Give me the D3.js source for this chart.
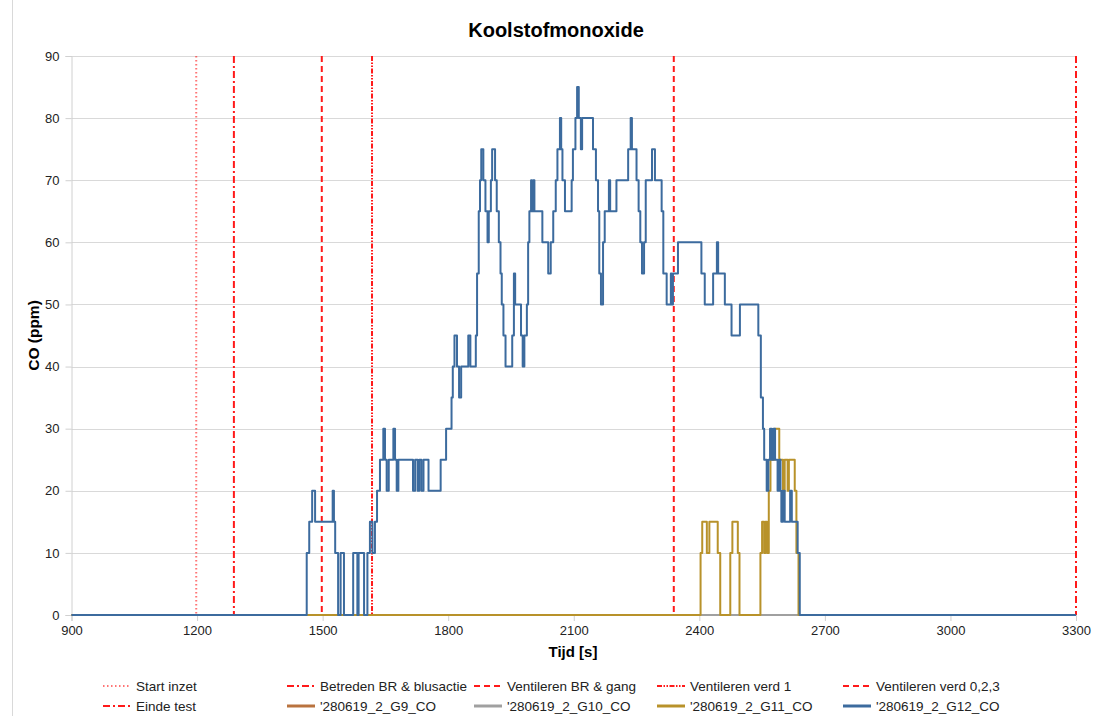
<!DOCTYPE html>
<html>
<head>
<meta charset="utf-8">
<script src="https://cdn.jsdelivr.net/npm/d3@7"></script>
<style>
  html, body { margin: 0; padding: 0; background: #fff; }
  svg { display: block; font-family: "Liberation Sans", Arial, sans-serif; }
</style>
</head>
<body>
<svg id="chart" width="1101" height="716"></svg>
<script>
// ---------- DATA ----------
const xTickValues = [900, 1200, 1500, 1800, 2100, 2400, 2700, 3000, 3300];
const yTickValues = [0, 10, 20, 30, 40, 50, 60, 70, 80, 90];

// event lines (time in s)
const eventNames = ["Start inzet", "Betreden BR & blusactie", "Ventileren BR & gang", "Ventileren verd 1", "Ventileren verd 0,2,3", "Einde test"];
const eventTimes = [1198, 1288, 1498, 1618, 2339, 3300];

// sensor series (step breakpoints: time, value)
const g9Times = [900, 3300];
const g9Values = [0, 0];
const g10Times = [900, 3300];
const g10Values = [0, 0];
const g11Times = [900, 2403, 2407, 2418, 2424, 2444, 2450, 2474, 2479, 2492, 2496, 2546, 2550, 2555, 2558, 2562, 2566, 2570, 2580, 2591, 2600, 2604, 2611, 2614, 2628, 2632, 2637, 3300];
const g11Values = [0, 10, 15, 10, 15, 10, 0, 10, 15, 10, 0, 10, 15, 10, 15, 10, 20, 25, 30, 25, 20, 25, 20, 25, 20, 10, 0, 0];
const g12Times = [900, 1462, 1468, 1475, 1482, 1524, 1527, 1530, 1537, 1543, 1551, 1573, 1583, 1586, 1599, 1607, 1613, 1619, 1625, 1630,
  1637, 1645, 1649, 1653, 1658, 1669, 1673, 1677, 1681, 1716, 1721, 1727, 1731, 1736, 1741, 1753, 1782, 1795, 1808, 1811,
  1815, 1821, 1826, 1831, 1848, 1853, 1866, 1869, 1873, 1876, 1879, 1884, 1889, 1894, 1897, 1902, 1905, 1912, 1916, 1921,
  1925, 1928, 1932, 1937, 1953, 1957, 1960, 1974, 1978, 1982, 1988, 1991, 1994, 1998, 2000, 2003, 2006, 2025, 2039, 2045,
  2051, 2057, 2061, 2067, 2070, 2073, 2079, 2095, 2098, 2104, 2108, 2112, 2117, 2120, 2146, 2153, 2158, 2161, 2165, 2170,
  2174, 2184, 2187, 2202, 2230, 2236, 2239, 2250, 2255, 2259, 2263, 2268, 2272, 2287, 2294, 2310, 2314, 2322, 2332, 2334,
  2337, 2349, 2405, 2413, 2433, 2442, 2445, 2461, 2477, 2497, 2541, 2547, 2552, 2555, 2561, 2565, 2569, 2573, 2577, 2581,
  2587, 2591, 2594, 2596, 2600, 2604, 2617, 2621, 2635, 2640, 3300];
const g12Values = [0, 10, 15, 20, 15, 20, 15, 10, 0, 10, 0, 10, 0, 10, 0, 10, 15, 10, 15, 20,
  25, 30, 25, 20, 25, 30, 25, 20, 25, 20, 25, 20, 25, 20, 25, 20, 25, 30, 35, 40,
  45, 40, 35, 40, 45, 40, 45, 55, 65, 70, 75, 70, 65, 60, 65, 70, 75, 70, 65, 60,
  55, 50, 45, 40, 45, 55, 50, 45, 40, 45, 50, 60, 65, 70, 65, 70, 65, 60, 55, 60,
  65, 70, 75, 80, 75, 70, 65, 70, 75, 80, 85, 80, 75, 80, 75, 70, 65, 55, 50, 60,
  65, 70, 65, 70, 75, 80, 75, 70, 65, 60, 55, 60, 70, 75, 70, 65, 55, 50, 55, 50,
  55, 60, 55, 50, 55, 60, 55, 50, 45, 50, 45, 35, 30, 25, 20, 25, 30, 25, 30, 25,
  20, 25, 20, 15, 20, 15, 20, 15, 10, 0, 0];

const seriesNames = ["'280619_2_G9_CO", "'280619_2_G10_CO", "'280619_2_G11_CO", "'280619_2_G12_CO"];
const seriesTimes = [g9Times, g10Times, g11Times, g12Times];
const seriesValues = [g9Values, g10Values, g11Values, g12Values];

// ---------- STYLE ----------
const seriesColors = ["#b9733f", "#a0a0a0", "#b8922a", "#3c6b9e"];
const eventDash = ["1.5,2.5", "7,3,2,3", "6,4", "5,1.5,1.5,1.5,1.5,1.5", "6,4", "7,3,2,3"];
const eventColor = "#ff1a1a";

const svg = d3.select("#chart");
const pLeft = 71.5, pRight = 1076, pTop = 56, pBottom = 615;

const x = d3.scaleLinear().domain([900, 3300]).range([pLeft, pRight]);
const y = d3.scaleLinear().domain([0, 90]).range([pBottom, pTop]);

// chart frame edge (left)
svg.append("line").attr("x1", 12.5).attr("x2", 12.5).attr("y1", 0).attr("y2", 716)
  .attr("stroke", "#d9d9d9").attr("stroke-width", 1);

// title
svg.append("text").attr("x", 556).attr("y", 37).attr("text-anchor", "middle")
  .attr("font-size", 20).attr("font-weight", "bold").attr("fill", "#000").text("Koolstofmonoxide");

// gridlines
svg.append("g").selectAll("line").data(yTickValues.filter(d => d > 0)).join("line")
  .attr("x1", pLeft).attr("x2", pRight)
  .attr("y1", d => Math.round(y(d)) + 0.5).attr("y2", d => Math.round(y(d)) + 0.5)
  .attr("stroke", "#d9d9d9").attr("stroke-width", 1);

// y axis
const yAxis = svg.append("g").attr("transform", `translate(${pLeft},0)`)
  .call(d3.axisLeft(y).tickValues(yTickValues).tickSize(6).tickPadding(6));
yAxis.select(".domain").attr("stroke", "#d0d0d0");
yAxis.selectAll(".tick line").attr("stroke", "#d0d0d0");
yAxis.selectAll(".tick text").attr("font-size", 13).attr("fill", "#222").attr("font-family", "'Liberation Sans', Arial, sans-serif");

// x axis
const xAxis = svg.append("g").attr("transform", `translate(0,${pBottom})`)
  .call(d3.axisBottom(x).tickValues(xTickValues).tickFormat(d3.format("d")).tickSize(6).tickPadding(5));
xAxis.select(".domain").attr("stroke", "#d0d0d0");
xAxis.selectAll(".tick line").attr("stroke", "#d0d0d0");
xAxis.selectAll(".tick text").attr("font-size", 13).attr("fill", "#222").attr("font-family", "'Liberation Sans', Arial, sans-serif");

// axis titles
svg.append("text").attr("x", 573).attr("y", 657).attr("text-anchor", "middle")
  .attr("font-size", 15).attr("font-weight", "bold").text("Tijd [s]");
svg.append("text").attr("transform", `translate(39,${(pTop + pBottom) / 2}) rotate(-90)`)
  .attr("text-anchor", "middle").attr("font-size", 15.5).attr("font-weight", "bold").text("CO (ppm)");

// event lines
svg.append("g").selectAll("line").data(eventTimes).join("line")
  .attr("x1", d => x(d)).attr("x2", d => x(d)).attr("y1", pTop).attr("y2", pBottom)
  .attr("stroke", eventColor).attr("stroke-width", 2)
  .attr("stroke-dasharray", (d, i) => eventDash[i])
  .attr("opacity", (d, i) => i === 0 ? 0.6 : 1);

// series
const line = d3.line().x(d => x(d[0])).y(d => y(d[1])).curve(d3.curveStepAfter);
const seriesData = seriesTimes.map((ts, i) => ts.map((t, j) => [t, seriesValues[i][j]]));
svg.append("g").selectAll("path").data(seriesData).join("path")
  .attr("d", line).attr("fill", "none")
  .attr("stroke", (d, i) => seriesColors[i]).attr("stroke-width", 2)
  .attr("stroke-linejoin", "round");

// legend
const colX = [103, 287, 474, 657, 843];
const legendItems = [];
eventNames.forEach((n, i) => legendItems.push({ name: n, type: "event", i }));
seriesNames.forEach((n, i) => legendItems.push({ name: n, type: "series", i }));
const lg = svg.append("g");
legendItems.forEach((it, k) => {
  const col = k % 5, row = Math.floor(k / 5);
  const lx = colX[col], ly = 686 + row * 20;
  if (it.type === "event") {
    lg.append("line").attr("x1", lx).attr("x2", lx + 28).attr("y1", ly).attr("y2", ly)
      .attr("stroke", eventColor).attr("stroke-width", 2)
      .attr("stroke-dasharray", eventDash[it.i]).attr("opacity", it.i === 0 ? 0.6 : 1);
  } else {
    lg.append("line").attr("x1", lx).attr("x2", lx + 28).attr("y1", ly).attr("y2", ly)
      .attr("stroke", seriesColors[it.i]).attr("stroke-width", 3);
  }
  lg.append("text").attr("x", lx + 33).attr("y", ly + 4.5).attr("font-size", 13.5).attr("fill", "#222").text(it.name);
});
</script>
</body>
</html>
